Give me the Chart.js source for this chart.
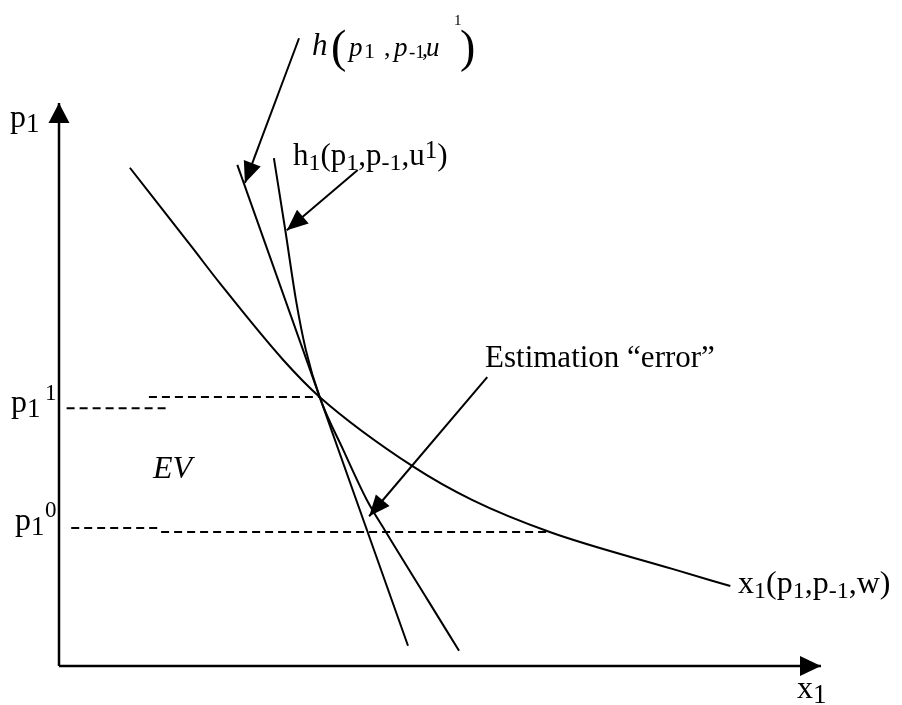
<!DOCTYPE html>
<html>
<head>
<meta charset="utf-8">
<script src="https://cdn.jsdelivr.net/npm/chart.js@4.4.0/dist/chart.umd.min.js"></script>
<style>
  body { margin: 0; background: #fff; }
  canvas { display: block; }
</style>
</head>
<body>
<canvas id="diagram" width="902" height="705"></canvas>
<script>
// axis units: quantity x1 and price p1, both 0..100
var demandX = [9.3, 17.5, 21.1, 29.4, 34.2, 46.5, 54.2, 64.4, 80.6, 88.1];
var demandY = [88.5, 74.3, 68.0, 54.4, 47.8, 35.4, 29.5, 23.8, 17.2, 14.2];

var hLineX = [23.4, 45.8];
var hLineY = [89.0, 3.6];

var h1X = [28.2, 29.7, 31.1, 32.4, 34.2, 37.3, 40.4, 42.9, 48.4, 52.5];
var h1Y = [90.2, 77.4, 65.0, 56.1, 47.8, 38.4, 29.5, 23.8, 11.7, 2.7];

var p1Price = 47.8;   // p1^1
var p0Price = 23.8;   // p1^0

// dashed guides [xStart, xEnd, y]
var guides = [
    [1.0, 14.0, 45.8],
    [11.8, 34.2, p1Price],
    [1.6, 12.9, 24.5],
    [13.4, 64.4, p0Price]
];

// pointer arrows [fromX, fromY, toX, toY]
var pointers = [
    [31.5, 111.5, 24.4, 85.8],
    [39.2, 88.1, 29.9, 77.4],
    [56.2, 51.3, 40.7, 26.6]
];

var serif = '"Liberation Serif", "Times New Roman", serif';

// text labels: anchor in axis units, then pieces (s = size, dy = shift, i = italic, x = fixed offset)
var labels = [
    { at: [-6.43, 95.7], parts: [{t: 'p', s: 32}, {t: '1', s: 27, dy: 5}] },
    { at: [96.85, -5.7], parts: [{t: 'x', s: 32}, {t: '1', s: 27, dy: 5}] },
    { at: [-6.3, 45.1], parts: [{t: 'p', s: 32}, {t: '1', s: 27, dy: 5}, {t: '1', s: 23, dy: -12, x: 34}] },
    { at: [-5.77, 24.2], parts: [{t: 'p', s: 32}, {t: '1', s: 27, dy: 5}, {t: '0', s: 23, dy: -13, x: 30}] },
    { at: [12.34, 33.4], parts: [{t: 'EV', s: 32, i: true}] },
    { at: [33.2, 108.5], parts: [
        {t: 'h', s: 31, i: true},
        {t: '(', s: 46, dy: 7, x: 19},
        {t: 'p', s: 27, dy: 1, i: true, x: 37},
        {t: '1', s: 22, dy: 3, x: 52},
        {t: ',', s: 26, dy: 1, x: 72},
        {t: 'p', s: 27, dy: 1, i: true, x: 82},
        {t: '-1', s: 19, dy: 3, x: 97},
        {t: ',', s: 24, dy: 1, x: 110},
        {t: 'u', s: 27, dy: 1, i: true, x: 114},
        {t: '1', s: 15, dy: -30, x: 142},
        {t: ')', s: 46, dy: 7, x: 148}
    ] },
    { at: [30.71, 89.0], parts: [
        {t: 'h', s: 31}, {t: '1', s: 24, dy: 5}, {t: '(p', s: 31}, {t: '1', s: 24, dy: 5},
        {t: ',p', s: 31}, {t: '-1', s: 24, dy: 5}, {t: ',u', s: 31}, {t: '1', s: 25, dy: -7}, {t: ')', s: 31}
    ] },
    { at: [55.91, 53.1], parts: [{t: 'Estimation \u201Cerror\u201D', s: 31}] },
    { at: [89.11, 13.0], parts: [
        {t: 'x', s: 32}, {t: '1', s: 24, dy: 5}, {t: '(p', s: 32}, {t: '1', s: 24, dy: 5},
        {t: ',p', s: 32}, {t: '-1', s: 24, dy: 5}, {t: ',w)', s: 32}
    ] }
];

function pts(xs, ys) {
    return xs.map(function (x, i) { return {x: x, y: ys[i]}; });
}

function curve(data, extra) {
    var ds = {
        data: data,
        showLine: true,
        borderColor: '#000',
        borderWidth: 2,
        pointRadius: 0,
        fill: false,
        clip: false,
        tension: 0
    };
    for (var k in extra) ds[k] = extra[k];
    return ds;
}

var datasets = [];
// axes
datasets.push(curve([{x: 0, y: 0}, {x: 0, y: 100}], {borderWidth: 2.5, arrow: {len: 20, half: 10.5}}));
datasets.push(curve([{x: 0, y: 0}, {x: 100, y: 0}], {borderWidth: 2.5, arrow: {len: 21, half: 10}}));
// demand and the two compensated curves
datasets.push(curve(pts(demandX, demandY), {cubicInterpolationMode: 'monotone'}));
datasets.push(curve(pts(hLineX, hLineY)));
datasets.push(curve(pts(h1X, h1Y), {cubicInterpolationMode: 'monotone'}));
guides.forEach(function (g) {
    datasets.push(curve([{x: g[0], y: g[2]}, {x: g[1], y: g[2]}], {borderDash: [8, 5]}));
});
pointers.forEach(function (p) {
    datasets.push(curve([{x: p[0], y: p[1]}, {x: p[2], y: p[3]}], {arrow: {len: 21, half: 9}}));
});

var whiteBg = {
    id: 'whiteBg',
    beforeDraw: function (chart) {
        var c = chart.ctx;
        c.save();
        c.fillStyle = '#fff';
        c.fillRect(0, 0, chart.width, chart.height);
        c.restore();
    }
};

var arrowHeads = {
    id: 'arrowHeads',
    afterDatasetsDraw: function (chart) {
        var c = chart.ctx;
        chart.data.datasets.forEach(function (ds, i) {
            if (!ds.arrow) return;
            var els = chart.getDatasetMeta(i).data;
            var a = els[els.length - 2], b = els[els.length - 1];
            var ang = Math.atan2(b.y - a.y, b.x - a.x);
            var L = ds.arrow.len, H = ds.arrow.half;
            c.save();
            c.translate(b.x, b.y);
            c.rotate(ang);
            c.beginPath();
            c.moveTo(0, 0);
            c.lineTo(-L, -H);
            c.lineTo(-L, H);
            c.closePath();
            c.fillStyle = '#000';
            c.fill();
            c.restore();
        });
    }
};

var texts = {
    id: 'texts',
    afterDatasetsDraw: function (chart) {
        var c = chart.ctx;
        var sx = chart.scales.x, sy = chart.scales.y;
        c.save();
        c.fillStyle = '#000';
        c.textBaseline = 'alphabetic';
        c.textAlign = 'left';
        labels.forEach(function (lb) {
            var x0 = sx.getPixelForValue(lb.at[0]);
            var y0 = sy.getPixelForValue(lb.at[1]);
            var cur = 0;
            lb.parts.forEach(function (p) {
                c.font = (p.i ? 'italic ' : '') + p.s + 'px ' + serif;
                if (p.x !== undefined) cur = p.x;
                c.fillText(p.t, x0 + cur, y0 + (p.dy || 0));
                cur += c.measureText(p.t).width;
            });
        });
        c.restore();
    }
};

new Chart(document.getElementById('diagram').getContext('2d'), {
    type: 'scatter',
    data: { datasets: datasets },
    options: {
        responsive: false,
        animation: false,
        events: [],
        layout: { padding: { left: 59, right: 81, top: 103, bottom: 39 } },
        scales: {
            x: { type: 'linear', min: 0, max: 100, display: false },
            y: { type: 'linear', min: 0, max: 100, display: false }
        },
        plugins: {
            legend: { display: false },
            tooltip: { enabled: false }
        }
    },
    plugins: [whiteBg, arrowHeads, texts]
});
</script>
</body>
</html>
